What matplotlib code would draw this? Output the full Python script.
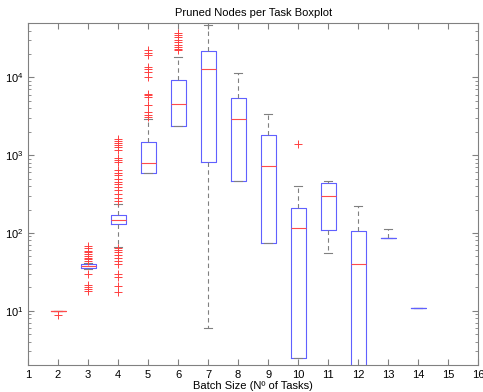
import numpy as np
import matplotlib
matplotlib.use("Agg")
import matplotlib.pyplot as plt
from matplotlib.ticker import LogLocator, NullFormatter

plt.rcParams['font.family'] = ['Liberation Sans', 'DejaVu Sans']
plt.rcParams['font.size'] = 8

# batch sizes and per-box statistics
batch = [2, 3, 4, 5, 6, 7, 8, 9, 10, 11, 12, 13, 14]
med = [10, 37.2, 148, 804, 4560, 13030, 2960, 735, 117, 299, 40.3, 86, 10.9]
q1 = [10, 35.7, 132, 597, 2405, 828, 471, 75, 2.48, 110, 1.0, 86, 10.9]
q3 = [10, 39.4, 172, 1497, 9400, 21900, 5510, 1820, 212, 444, 105, 86, 10.9]
whislo = [10, 34.5, 66, 597, 2405, 5.97, 471, 75, 2.48, 55, 1.0, 86, 10.9]
whishi = [10, 41.5, 238, 2897, 18370, 48000, 11320, 3430, 402, 461, 224, 113, 10.9]

out2 = [8.9]
out3 = [67, 63, 59, 56, 53, 50, 48, 46, 44, 30, 21.6, 20, 18.8, 17.7]
out4 = [1637, 1524, 1436, 1340, 1275, 1156, 931, 877, 827, 639, 590, 551,
        500, 452, 431, 390, 353, 320, 285, 257,
        64, 60, 57, 51.5, 48, 44, 40, 30, 27, 21, 17.4]
out5 = [22400, 20900, 19300, 13650, 12740, 11770, 10150, 6200, 5900, 5600,
        4385, 3600, 3330, 3105]
out6 = [37800, 35650, 33200, 30700, 28600, 25950, 24700, 23550, 22400]
out10 = [1410]
fliers = [out2, out3, out4, out5, out6, [], [], [], out10, [], [], [], []]

stats = []
for i in range(len(batch)):
    stats.append(dict(med=med[i], q1=q1[i], q3=q3[i], whislo=whislo[i],
                      whishi=whishi[i], fliers=fliers[i]))

fig = plt.figure(figsize=(4.83, 3.92), dpi=100)
ax = fig.add_axes([0.058, 0.069, 0.932, 0.872])

gray = '#808080'
res = ax.bxp(stats, positions=batch, widths=0.5, capwidths=0.25,
             boxprops=dict(color='#6060ff', linewidth=0.8),
             whiskerprops=dict(color=gray, linestyle=(0, (4, 3)), linewidth=0.8),
             capprops=dict(color=gray, linewidth=0.8),
             medianprops=dict(color='#ff4c4c', linewidth=0.8),
             flierprops=dict(marker='+', markeredgecolor='#ff4040',
                             markersize=5.5, markeredgewidth=0.7, linestyle='none'),
             manage_ticks=False)
# flat box at 2 shows red, single-value boxes at 13 and 14 show blue
res['boxes'][0].set_color('#ff4c4c')
res['medians'][11].set_color('#6060ff')
res['medians'][12].set_color('#6060ff')

ax.set_yscale('log')
ax.set_xlim(1, 16)
ax.set_ylim(2, 5e4)
ax.set_xticks(range(1, 17))
ax.yaxis.set_major_locator(LogLocator(base=10, numticks=10))
ax.yaxis.set_minor_locator(LogLocator(base=10, subs=np.arange(2, 10), numticks=20))
ax.yaxis.set_minor_formatter(NullFormatter())
ax.tick_params(which='both', direction='in', right=True, top=True, colors=gray,
               labelcolor='black')
ax.tick_params(which='major', length=4)
ax.tick_params(which='minor', length=2)
for s in ax.spines.values():
    s.set_color(gray)

ax.set_title('Pruned Nodes per Task Boxplot', fontsize=8, pad=5)
ax.set_xlabel('Batch Size (Nº of Tasks)', fontsize=8, labelpad=1)

fig.savefig('out.png', dpi=100)
